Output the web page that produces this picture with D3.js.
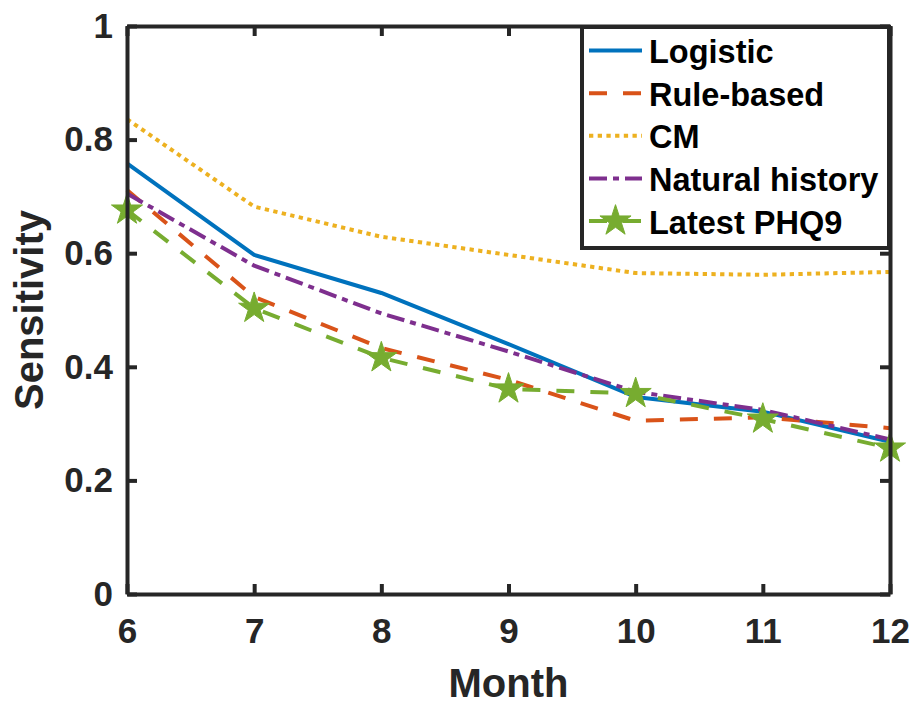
<!DOCTYPE html>
<html>
<head>
<meta charset="utf-8">
<script src="https://cdn.jsdelivr.net/npm/d3@7"></script>
<style>
  html, body { margin: 0; padding: 0; background: #fff; }
  svg { display: block; }
  text { font-family: "Liberation Sans", Arial, Helvetica, sans-serif; font-weight: bold; }
</style>
</head>
<body>
<svg id="chart" width="916" height="704"></svg>
<script>
// Sensitivity by follow-up month for each prediction method
const months = [6, 7, 8, 9, 10, 11, 12];
const logistic = [0.758, 0.597, 0.530, 0.440, 0.347, 0.321, 0.268];
const ruleBased = [0.711, 0.523, 0.433, 0.377, 0.305, 0.311, 0.292];
const cm = [0.836, 0.682, 0.629, 0.597, 0.565, 0.562, 0.567];
const naturalHistory = [0.705, 0.578, 0.494, 0.427, 0.356, 0.324, 0.272];
const latestPhq9 = [0.676, 0.503, 0.416, 0.361, 0.353, 0.308, 0.257];

const seriesNames = ["Logistic", "Rule-based", "CM", "Natural history", "Latest PHQ9"];
const yTicks = [0, 0.2, 0.4, 0.6, 0.8, 1];
const yTickLabels = ["0", "0.2", "0.4", "0.6", "0.8", "1"];

const series = [
  { name: seriesNames[0], values: logistic, color: "#0072BD", dash: null, marker: false },
  { name: seriesNames[1], values: ruleBased, color: "#D95319", dash: "18,16", marker: false },
  { name: seriesNames[2], values: cm, color: "#EDB120", dash: "4.3,4.4", marker: false },
  { name: seriesNames[3], values: naturalHistory, color: "#7E2F8E", dash: "18,6,6,6", marker: false },
  { name: seriesNames[4], values: latestPhq9, color: "#77AC30", dash: "18,16", marker: true }
];

const svg = d3.select("#chart");
const axisColor = "#262626";
const plotLeft = 127, plotRight = 890, plotTop = 26, plotBottom = 594;

const x = d3.scaleLinear().domain([6, 12]).range([plotLeft, plotRight]);
const y = d3.scaleLinear().domain([0, 1]).range([plotBottom, plotTop]);

// Data lines
const line = d3.line().x((d, i) => x(months[i])).y(d => y(d));
const plot = svg.append("g");
series.forEach(s => {
  plot.append("path")
    .datum(s.values)
    .attr("d", line)
    .attr("fill", "none")
    .attr("stroke", s.color)
    .attr("stroke-width", 4)
    .attr("stroke-dasharray", s.dash)
    .attr("stroke-linejoin", "round");
});

const star = d3.symbol().type(d3.symbolStar).size(300);
series.filter(s => s.marker).forEach(s => {
  plot.selectAll(null)
    .data(s.values)
    .enter().append("path")
    .attr("d", star)
    .attr("transform", (d, i) => `translate(${x(months[i])},${y(d)})`)
    .attr("fill", s.color)
    .attr("stroke", s.color)
    .attr("stroke-width", 1);
});

// Axes (box with inward ticks on all four sides)
function styleAxis(g) {
  g.select(".domain").attr("stroke", axisColor).attr("stroke-width", 4);
  g.selectAll(".tick line").attr("stroke", axisColor).attr("stroke-width", 4);
  g.selectAll(".tick text")
    .attr("fill", axisColor)
    .style("font-size", "35px")
    .style("font-family", "'Liberation Sans', Arial, sans-serif")
    .style("font-weight", "bold");
}

const xAxis = d3.axisBottom(x).tickValues(months).tickFormat(d3.format("d"))
  .tickSizeInner(-10).tickSizeOuter(0).tickPadding(24);
svg.append("g").attr("transform", `translate(0,${plotBottom})`).call(xAxis).call(styleAxis);

const xAxisTop = d3.axisTop(x).tickValues(months).tickFormat("")
  .tickSizeInner(-10).tickSizeOuter(0);
svg.append("g").attr("transform", `translate(0,${plotTop})`).call(xAxisTop).call(styleAxis);

const yAxis = d3.axisLeft(y).tickValues(yTicks).tickFormat((d, i) => yTickLabels[i])
  .tickSizeInner(-10).tickSizeOuter(0).tickPadding(14);
svg.append("g").attr("transform", `translate(${plotLeft},0)`).call(yAxis).call(styleAxis);

const yAxisRight = d3.axisRight(y).tickValues(yTicks).tickFormat("")
  .tickSizeInner(-10).tickSizeOuter(0);
svg.append("g").attr("transform", `translate(${plotRight},0)`).call(yAxisRight).call(styleAxis);

// Axis titles
svg.append("text")
  .attr("x", (plotLeft + plotRight) / 2)
  .attr("y", 697)
  .attr("text-anchor", "middle")
  .attr("fill", axisColor)
  .style("font-size", "40px")
  .text("Month");

svg.append("text")
  .attr("transform", `translate(43,${(plotTop + plotBottom) / 2}) rotate(-90)`)
  .attr("text-anchor", "middle")
  .attr("fill", axisColor)
  .style("font-size", "40px")
  .text("Sensitivity");

// Legend
const legend = svg.append("g");
legend.append("rect")
  .attr("x", 582).attr("y", 27)
  .attr("width", 307).attr("height", 221)
  .attr("fill", "#fff")
  .attr("stroke", axisColor)
  .attr("stroke-width", 4);

const rowBase = d3.scaleLinear().domain([0, 4]).range([63, 233.5]);
series.forEach((s, i) => {
  const by = rowBase(i);
  const cy = by - 12.5;
  legend.append("line")
    .attr("x1", 589).attr("x2", 642)
    .attr("y1", cy).attr("y2", cy)
    .attr("stroke", s.color)
    .attr("stroke-width", 4)
    .attr("stroke-dasharray", s.dash);
  if (s.marker) {
    legend.append("path")
      .attr("d", star)
      .attr("transform", `translate(615.5,${cy})`)
      .attr("fill", s.color)
      .attr("stroke", s.color)
      .attr("stroke-width", 1);
  }
  legend.append("text")
    .attr("x", 649).attr("y", by)
    .attr("fill", "#000")
    .style("font-size", "32.5px")
    .text(s.name);
});
</script>
</body>
</html>
